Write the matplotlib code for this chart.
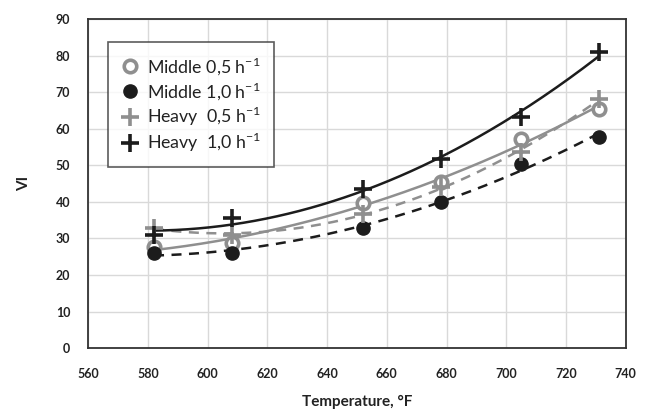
import numpy as np
import matplotlib
matplotlib.use("Agg")
import matplotlib.pyplot as plt

plt.rcParams['font.family'] = ['Lato', 'DejaVu Sans']
plt.rcParams['mathtext.fontset'] = 'custom'
plt.rcParams['mathtext.rm'] = 'Lato'

# data
temp = [582, 608, 652, 678, 705, 731]
middle_05 = [27.6, 28.7, 39.7, 45.4, 57.3, 65.5]
middle_10 = [26.0, 26.0, 33.0, 40.0, 50.3, 57.7]
heavy_05 = [32.8, 31.0, 36.8, 44.0, 53.6, 68.2]
heavy_10 = [31.0, 35.5, 43.4, 51.8, 63.2, 81.0]

GREY = "#8f8f8f"
BLACK = "#1c1c1c"
TXT = "#222222"

fig = plt.figure(figsize=(6.45, 4.15), dpi=100)
ax = fig.add_axes([0.137, 0.161, 0.833, 0.793])

x = np.array(temp)
xs = np.linspace(x.min(), x.max(), 200)

def trend(y, color, ls):
    c = np.polyfit(x, y, 2)
    ax.plot(xs, np.polyval(c, xs), color=color, ls=ls, lw=1.8,
            dashes=(4, 3) if ls == "--" else (None, None), zorder=2)

trend(middle_05, GREY, "-")
trend(middle_10, BLACK, "--")
trend(heavy_05, GREY, "--")
trend(heavy_10, BLACK, "-")

ax.plot(x, middle_05, "o", ms=9, mfc="white", mec=GREY, mew=2.6, ls="none",
        label=r"Middle 0,5 h$^{\mathregular{-1}}$", zorder=3)
ax.plot(x, middle_10, "o", ms=9.5, mfc=BLACK, mec=BLACK, ls="none",
        label=r"Middle 1,0 h$^{\mathregular{-1}}$", zorder=3)
ax.plot(x, heavy_05, "+", ms=13, mec=GREY, mew=2.6, ls="none",
        label=r"Heavy  0,5 h$^{\mathregular{-1}}$", zorder=4)
ax.plot(x, heavy_10, "+", ms=13, mec=BLACK, mew=2.6, ls="none",
        label=r"Heavy  1,0 h$^{\mathregular{-1}}$", zorder=4)

ax.set_xlim(560, 740)
ax.set_ylim(0, 90)
ax.set_xticks(range(560, 741, 20))
ax.set_yticks(range(0, 91, 10))
ax.grid(True, color="#d9d9d9", lw=1)
ax.set_axisbelow(True)
ax.tick_params(length=0, labelsize=9, labelcolor=TXT)
ax.tick_params(axis="y", pad=13)
ax.tick_params(axis="x", pad=14)
for lab in ax.get_xticklabels() + ax.get_yticklabels():
    lab.set_fontweight("bold")
for s in ax.spines.values():
    s.set_color("#333333")
    s.set_linewidth(1.3)

ax.set_xlabel("Temperature, °F", fontsize=11, labelpad=11, color=TXT,
              fontweight="bold")
ax.set_ylabel("VI", fontsize=11, labelpad=18, color=TXT, fontweight="bold")

leg = ax.legend(loc="upper left", bbox_to_anchor=(0.03, 0.94), fontsize=12.8,
                frameon=True, fancybox=False, edgecolor="#333333",
                handletextpad=0.4, borderpad=0.7, labelspacing=0.18,
                handlelength=1.1, borderaxespad=0.2)
leg.get_frame().set_linewidth(1.2)
for t in leg.get_texts():
    t.set_color(TXT)

fig.savefig("out.png", dpi=100)
